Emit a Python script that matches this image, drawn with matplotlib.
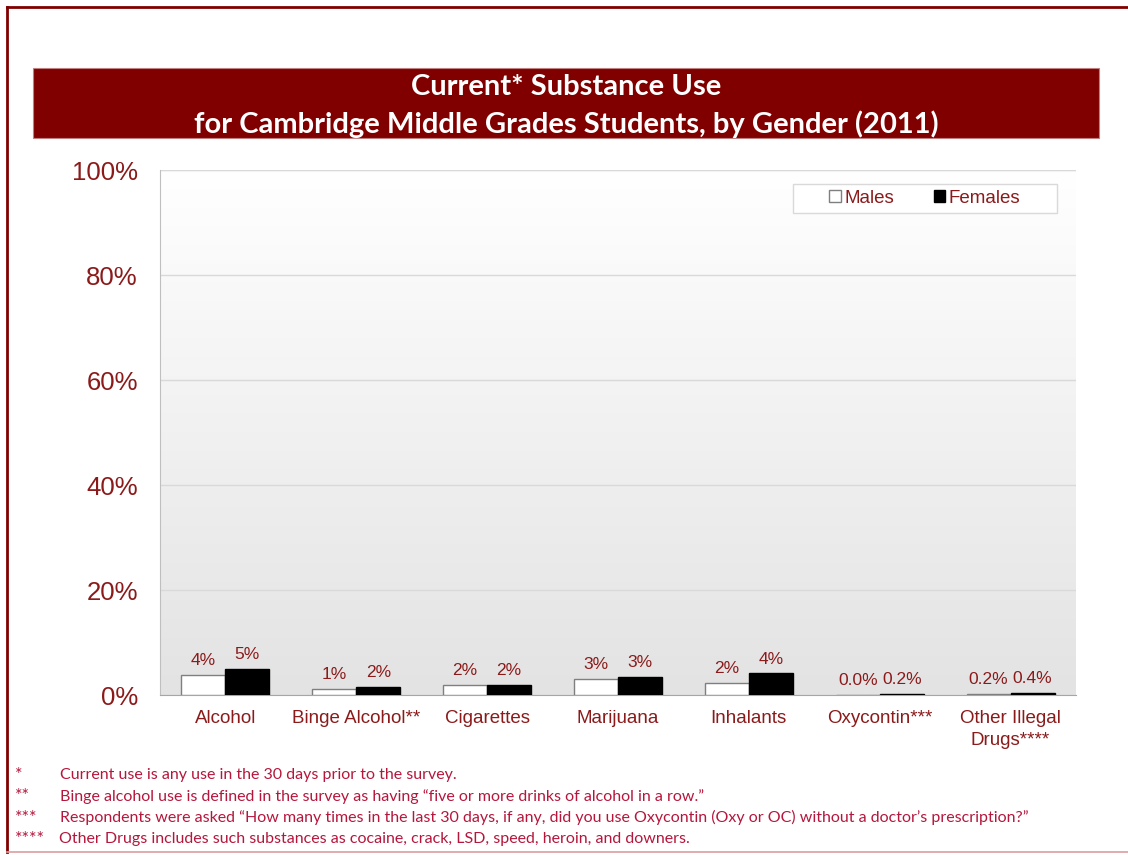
import numpy as np
import matplotlib
matplotlib.use("Agg")
import matplotlib.pyplot as plt
from matplotlib.patches import Patch, Rectangle
from matplotlib.lines import Line2D

categories = ["Alcohol", "Binge Alcohol**", "Cigarettes", "Marijuana",
              "Inhalants", "Oxycontin***", "Other Illegal\nDrugs****"]
males = [3.9, 1.2, 2.0, 3.0, 2.3, 0.0, 0.2]
females = [4.9, 1.5, 1.9, 3.4, 4.1, 0.2, 0.4]
yticks = [0, 20, 40, 60, 80, 100]

footnotes = [
    ("*", "Current use is any use in the 30 days prior to the survey."),
    ("**", "Binge alcohol use is defined in the survey as having \u201cfive or more drinks of alcohol in a row.\u201d"),
    ("***", "Respondents were asked \u201cHow many times in the last 30 days, if any, did you use Oxycontin (Oxy or OC) without a doctor\u2019s prescription?\u201d"),
    ("****", "Other Drugs includes such substances as cocaine, crack, LSD, speed, heroin, and downers."),
]

DARKRED = "#800000"
LABEL = "#8b1a1a"
NOTE = "#b5173c"

W, H = 1128, 855
fig = plt.figure(figsize=(W / 100, H / 100), dpi=100)
fig.patch.set_facecolor("white")

# outer frame
fig.add_artist(Line2D([7 / W, 1], [1 - 7 / H, 1 - 7 / H], color=DARKRED, lw=2))
fig.add_artist(Line2D([7 / W, 7 / W], [1 - 7 / H, 1 - 852 / H], color=DARKRED, lw=2))
fig.add_artist(Line2D([7 / W, 1], [1 - 852 / H, 1 - 852 / H], color="#d9a0a0", lw=1.2))

# title bar
fig.add_artist(Rectangle((33 / W, 1 - 138 / H), (1099 - 33) / W, 70 / H,
                         transform=fig.transFigure, facecolor=DARKRED, edgecolor="#c08080", lw=0.8))
fig.text(566 / W, 1 - 87 / H, "Current* Substance Use", color="white", fontsize=21,
         fontweight="bold", family="Lato", ha="center", va="center")
fig.text(566 / W, 1 - 124 / H, "for Cambridge Middle Grades Students, by Gender (2011)",
         color="white", fontsize=21, fontweight="bold", family="Lato", ha="center", va="center")

ax = fig.add_axes([160 / W, 1 - 695 / H, (1076 - 160) / W, (695 - 170) / H])

# gradient background
grad = np.linspace(1, 0, 256).reshape(-1, 1)
ax.imshow(grad, extent=[-0.5, len(categories) - 0.5, 0, 100], aspect="auto",
          cmap=matplotlib.colors.LinearSegmentedColormap.from_list("g", ["#e3e3e3", "#ffffff"]),
          zorder=0, origin="upper")

x = np.arange(len(categories))
bw = 0.336
ax.bar(x - bw / 2, males, bw, color="white", edgecolor="#7f7f7f", lw=1, zorder=3)
ax.bar(x + bw / 2, females, bw, color="black", edgecolor="black", lw=1, zorder=3)

def fmt(v):
    return f"{v:.1f}%" if v < 1 else f"{v:.0f}%"

for i in range(len(categories)):
    for dx, v in ((-bw / 2, males[i]), (bw / 2, females[i])):
        ax.annotate(fmt(v), (x[i] + dx, v), xytext=(0, 5), textcoords="offset points",
                    ha="center", va="bottom", color=LABEL, fontsize=12.5,
                    family="Liberation Sans", zorder=4)

ax.set_xlim(-0.5, len(categories) - 0.5)
ax.set_ylim(0, 100)
ax.set_yticks(yticks)
ax.set_yticklabels([f"{t}%" for t in yticks])
ax.set_xticks(x)
ax.set_xticklabels(categories)
for lab in ax.get_yticklabels():
    lab.set_fontsize(18.5)
    lab.set_color(LABEL)
    lab.set_family("Liberation Sans")
for lab in ax.get_xticklabels():
    lab.set_fontsize(13.5)
    lab.set_color(LABEL)
    lab.set_family("Liberation Sans")
    lab.set_linespacing(1.4)
ax.tick_params(axis="y", length=0, pad=16)
ax.tick_params(axis="x", length=0, pad=11)
ax.grid(axis="y", color="#d9d9d9", lw=1, zorder=1)
for s in ["top", "right"]:
    ax.spines[s].set_visible(False)
ax.spines["left"].set_color("#bfbfbf")
ax.spines["bottom"].set_color("#a6a6a6")
ax.axhline(100, color="#e8e8e8", lw=1, zorder=1)

# legend box
ax.add_patch(Rectangle((0.691, 0.918), 0.288, 0.055, transform=ax.transAxes,
                       facecolor="white", edgecolor="#d9d9d9", lw=1, zorder=4))
handles = [Patch(facecolor="white", edgecolor="#7f7f7f", label="Males"),
           Patch(facecolor="black", edgecolor="black", label="Females")]
leg = ax.legend(handles=handles, loc="center", bbox_to_anchor=(0.835, 0.9457), ncol=2,
                frameon=False, handlelength=0.6, handleheight=0.6,
                handletextpad=0.2, columnspacing=2.1, borderpad=0.2,
                prop={"family": "Liberation Sans", "size": 13.5})
leg.set_zorder(5)
for t in leg.get_texts():
    t.set_color(LABEL)

for k, (star, note) in enumerate(footnotes):
    y = 1 - (775 + 21.3 * k) / H
    fig.text(15 / W, y, star, color=NOTE, fontsize=13, family="Lato", va="center")
    fig.text((60 if k < 3 else 59) / W, y, note, color=NOTE, fontsize=11.5, family="Lato", va="center")

fig.savefig("out.png", dpi=100)
